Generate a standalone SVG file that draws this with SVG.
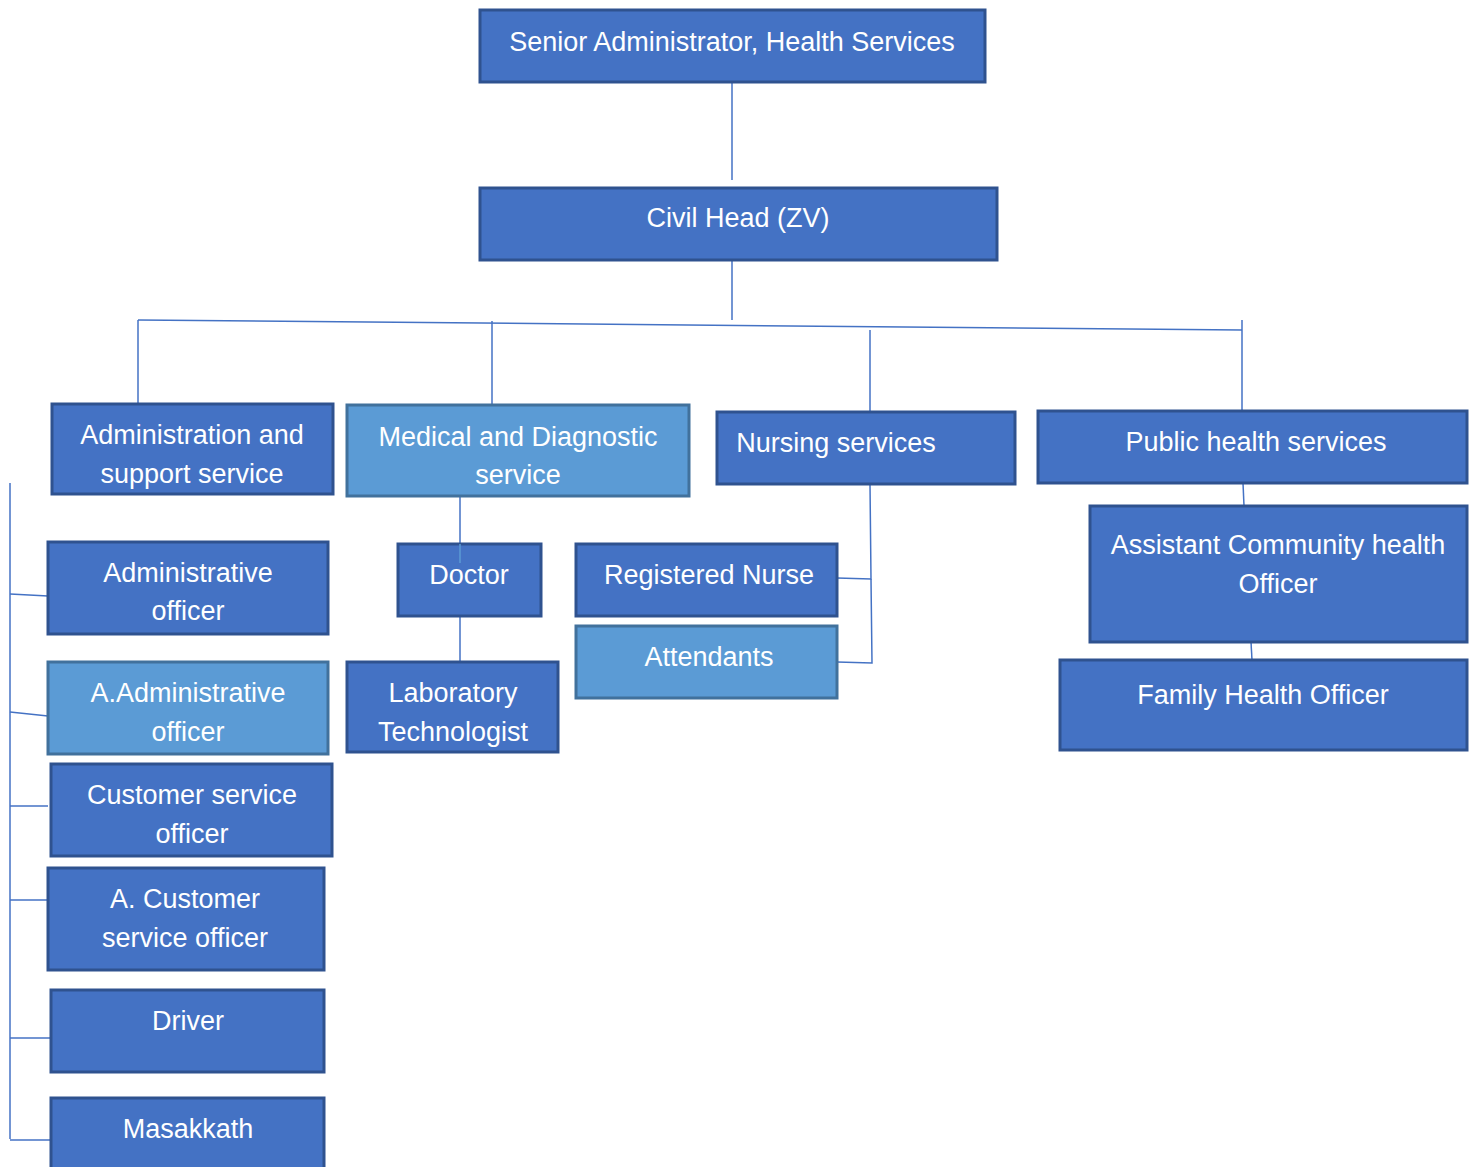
<svg xmlns="http://www.w3.org/2000/svg" width="1477" height="1167" viewBox="0 0 1477 1167">
<style>
.n{fill:#4472C4;stroke:#2F528F;stroke-width:3}
.l{fill:#5B9BD5;stroke:#41719C;stroke-width:3}
text{fill:#FFFFFF;font-family:"Liberation Sans","Open Sans",sans-serif;font-size:27px;text-anchor:middle}
.c line,.c polyline{stroke:#4472C4;stroke-width:1.5;fill:none}
</style>
<rect width="1477" height="1167" fill="#FFFFFF"/>
<g class="c" id="connectors">
<line x1="732" y1="82" x2="732" y2="180"/>
<line x1="732" y1="260" x2="732" y2="320"/>
<line x1="138" y1="320" x2="1242" y2="330"/>
<line x1="138" y1="320" x2="138" y2="404"/>
<line x1="492" y1="321" x2="492" y2="405"/>
<line x1="870" y1="330" x2="870" y2="412"/>
<line x1="1242" y1="320" x2="1242" y2="411"/>
<line x1="10" y1="483" x2="10" y2="1139"/>
<line x1="10" y1="594" x2="48" y2="596"/>
<line x1="10" y1="712" x2="48" y2="716"/>
<line x1="10" y1="806" x2="48" y2="806"/>
<line x1="10" y1="900" x2="48" y2="900"/>
<line x1="10" y1="1038" x2="51" y2="1038"/>
<line x1="10" y1="1140" x2="51" y2="1140"/>
<line x1="460" y1="496" x2="460" y2="544"/>
<line x1="460" y1="616" x2="460" y2="662"/>
<polyline points="870,484 871,579 837,578"/>
<polyline points="871,579 872,663 837,662"/>
<line x1="1243" y1="483" x2="1244" y2="506"/>
<line x1="1251" y1="642" x2="1252" y2="660"/>
</g>
<g id="senior"><rect class="n" x="480" y="10" width="505" height="72"/><text x="732" y="51">Senior Administrator, Health Services</text></g>
<g id="civil"><rect class="n" x="480" y="188" width="517" height="72"/><text x="738" y="227">Civil Head (ZV)</text></g>
<g id="admin"><rect class="n" x="52" y="404" width="281" height="90"/><text x="192" y="444">Administration and</text><text x="192" y="483">support service</text></g>
<g id="medical"><rect class="l" x="347" y="405" width="342" height="91"/><text x="518" y="446">Medical and Diagnostic</text><text x="518" y="484">service</text></g>
<g id="nursing"><rect class="n" x="717" y="412" width="298" height="72"/><text x="836" y="452">Nursing services</text></g>
<g id="public"><rect class="n" x="1038" y="411" width="429" height="72"/><text x="1256" y="451">Public health services</text></g>
<g id="doctor"><rect class="n" x="398" y="544" width="143" height="72"/><text x="469" y="584">Doctor</text></g>
<line x1="460" y1="544" x2="460" y2="563" stroke="#5B9BD5" stroke-width="1.5"/>
<g id="lab"><rect class="n" x="347" y="662" width="211" height="90"/><text x="453" y="702">Laboratory</text><text x="453" y="741">Technologist</text></g>
<g id="rn"><rect class="n" x="576" y="544" width="261" height="72"/><text x="709" y="584">Registered Nurse</text></g>
<g id="attendants"><rect class="l" x="576" y="626" width="261" height="72"/><text x="709" y="666">Attendants</text></g>
<g id="assistant"><rect class="n" x="1090" y="506" width="377" height="136"/><text x="1278" y="554">Assistant Community health</text><text x="1278" y="593">Officer</text></g>
<g id="family"><rect class="n" x="1060" y="660" width="407" height="90"/><text x="1263" y="704">Family Health Officer</text></g>
<g id="ao"><rect class="n" x="48" y="542" width="280" height="92"/><text x="188" y="582">Administrative</text><text x="188" y="620">officer</text></g>
<g id="aao"><rect class="l" x="48" y="662" width="280" height="92"/><text x="188" y="702">A.Administrative</text><text x="188" y="741">officer</text></g>
<g id="cso"><rect class="n" x="51" y="764" width="281" height="92"/><text x="192" y="804">Customer service</text><text x="192" y="843">officer</text></g>
<g id="acso"><rect class="n" x="48" y="868" width="276" height="102"/><text x="185" y="908">A. Customer</text><text x="185" y="947">service officer</text></g>
<g id="driver"><rect class="n" x="51" y="990" width="273" height="82"/><text x="188" y="1030">Driver</text></g>
<g id="masakkath"><rect class="n" x="51" y="1098" width="273" height="80"/><text x="188" y="1138">Masakkath</text></g>
</svg>
